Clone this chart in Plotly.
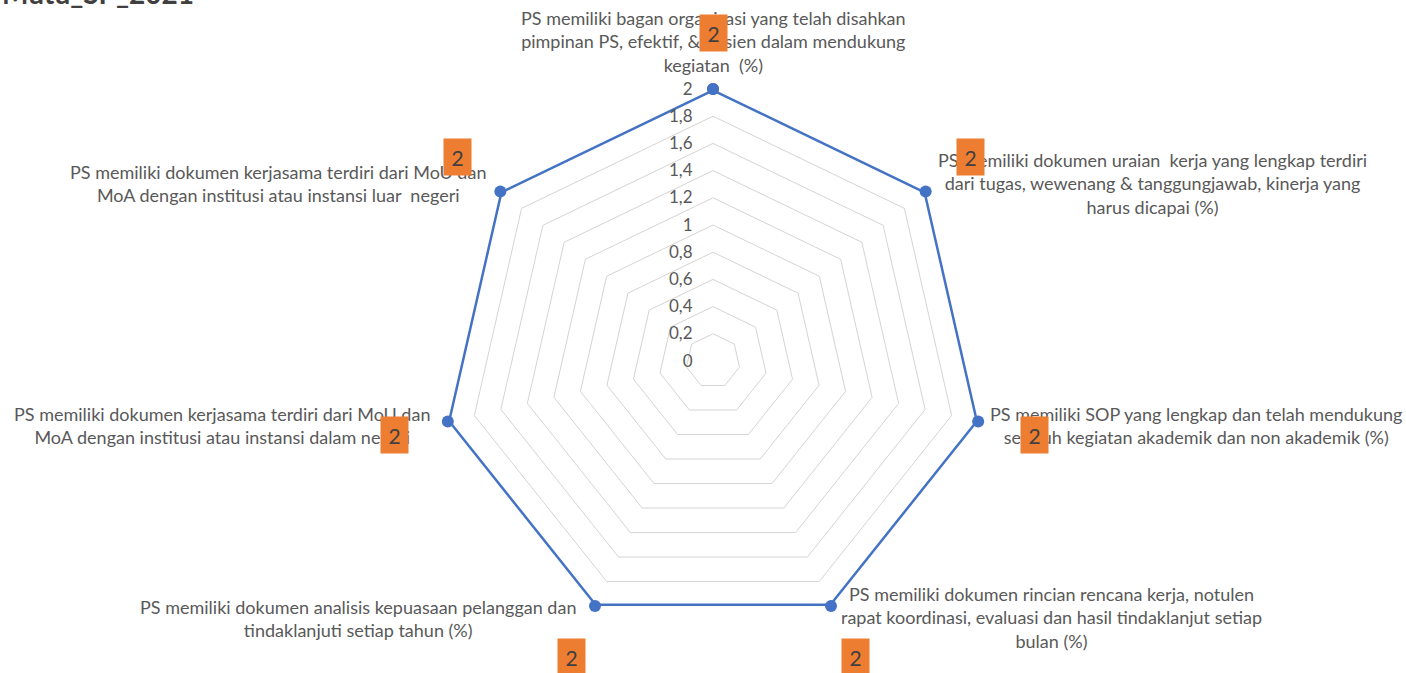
import plotly.graph_objects as go

title_text = "Mutu_SP_2021"
categories = [
    "PS memiliki bagan organisasi yang telah disahkan<br>pimpinan PS, efektif, & efisien dalam mendukung<br>kegiatan  (%)",
    "PS memiliki dokumen uraian  kerja yang lengkap terdiri<br>dari tugas, wewenang & tanggungjawab, kinerja yang<br>harus dicapai (%)",
    "PS memiliki SOP yang lengkap dan telah mendukung<br>seluruh kegiatan akademik dan non akademik (%)",
    "PS memiliki dokumen rincian rencana kerja, notulen<br>rapat koordinasi, evaluasi dan hasil tindaklanjut setiap<br>bulan (%)",
    "PS memiliki dokumen analisis kepuasaan pelanggan dan<br>tindaklanjuti setiap tahun (%)",
    "PS memiliki dokumen kerjasama terdiri dari MoU dan<br>MoA dengan institusi atau instansi dalam negeri",
    "PS memiliki dokumen kerjasama terdiri dari MoU dan<br>MoA dengan institusi atau instansi luar  negeri",
]
values = [2, 2, 2, 2, 2, 2, 2]
radial_ticks = [0, 0.2, 0.4, 0.6, 0.8, 1.0, 1.2, 1.4, 1.6, 1.8, 2.0]

W, H = 1406, 673
# label layout (pixel centers) - style only
cat_pos = [(713, 41), (1152, 184), (1196, 425), (1051, 617), (358, 618), (222, 425), (278, 184)]
box_pos = [(714, 33), (970, 157), (1034, 435), (855, 657), (571, 657), (394, 435), (457, 157)]

def px(x, y):
    return x / W, 1 - y / H

theta = [f"c{i}" for i in range(len(categories))]

fig = go.Figure()
fig.add_trace(go.Scatterpolar(
    r=values + [values[0]],
    theta=theta + [theta[0]],
    mode="lines+markers",
    line=dict(color="#4472C4", width=5),
    marker=dict(color="#4472C4", size=12),
    cliponaxis=False,
    showlegend=False,
))

annotations = []
for txt, (x, y) in zip(categories, cat_pos):
    ax, ay = px(x, y)
    annotations.append(dict(
        x=ax, y=ay, xref="paper", yref="paper", text=txt, showarrow=False,
        xanchor="center", yanchor="middle", align="center",
        font=dict(family="Lato, Carlito, Calibri, sans-serif", size=18, color="#595959"),
    ))
for v, (x, y) in zip(values, box_pos):
    ax, ay = px(x, y)
    annotations.append(dict(
        x=ax, y=ay, xref="paper", yref="paper", text=str(v), showarrow=False,
        xanchor="center", yanchor="middle", bgcolor="#ED7D31", width=25, height=34,
        font=dict(family="Lato, Calibri, sans-serif", size=21, color="#404040"),
    ))
tx, ty = px(0, -7)
annotations.append(dict(
    x=tx, y=ty, xref="paper", yref="paper", text="<b>" + title_text + "</b>", showarrow=False,
    xanchor="left", yanchor="middle",
    font=dict(family="Lato, Calibri, sans-serif", size=28, color="#404040"),
))

cx, cy, R = 713, 361, 272
fig.update_layout(
    width=W, height=H,
    margin=dict(l=0, r=0, t=0, b=0),
    paper_bgcolor="white",
    plot_bgcolor="white",
    separators=", ",
    polar=dict(
        domain=dict(x=[(cx - R) / W, (cx + R) / W], y=[1 - (cy + R) / H, 1 - (cy - R) / H]),
        bgcolor="white",
        gridshape="linear",
        radialaxis=dict(
            range=[0, 2], tickvals=radial_ticks, tickformat=".1~f",
            angle=90, side="counterclockwise", tickangle=90,
            showline=False, ticks="outside", ticklen=14, tickcolor="rgba(0,0,0,0)",
            gridcolor="#D4D4D4", gridwidth=1.3,
            tickfont=dict(family="Lato, Calibri, sans-serif", size=17, color="#595959"),
        ),
        angularaxis=dict(
            direction="clockwise", rotation=90, showticklabels=False,
            showgrid=False, showline=False, ticks="",
            categoryorder="array", categoryarray=theta,
        ),
    ),
    annotations=annotations,
)

fig.write_html("out.html", config={"displayModeBar": False},
               post_script="document.body.style.margin='0';")
